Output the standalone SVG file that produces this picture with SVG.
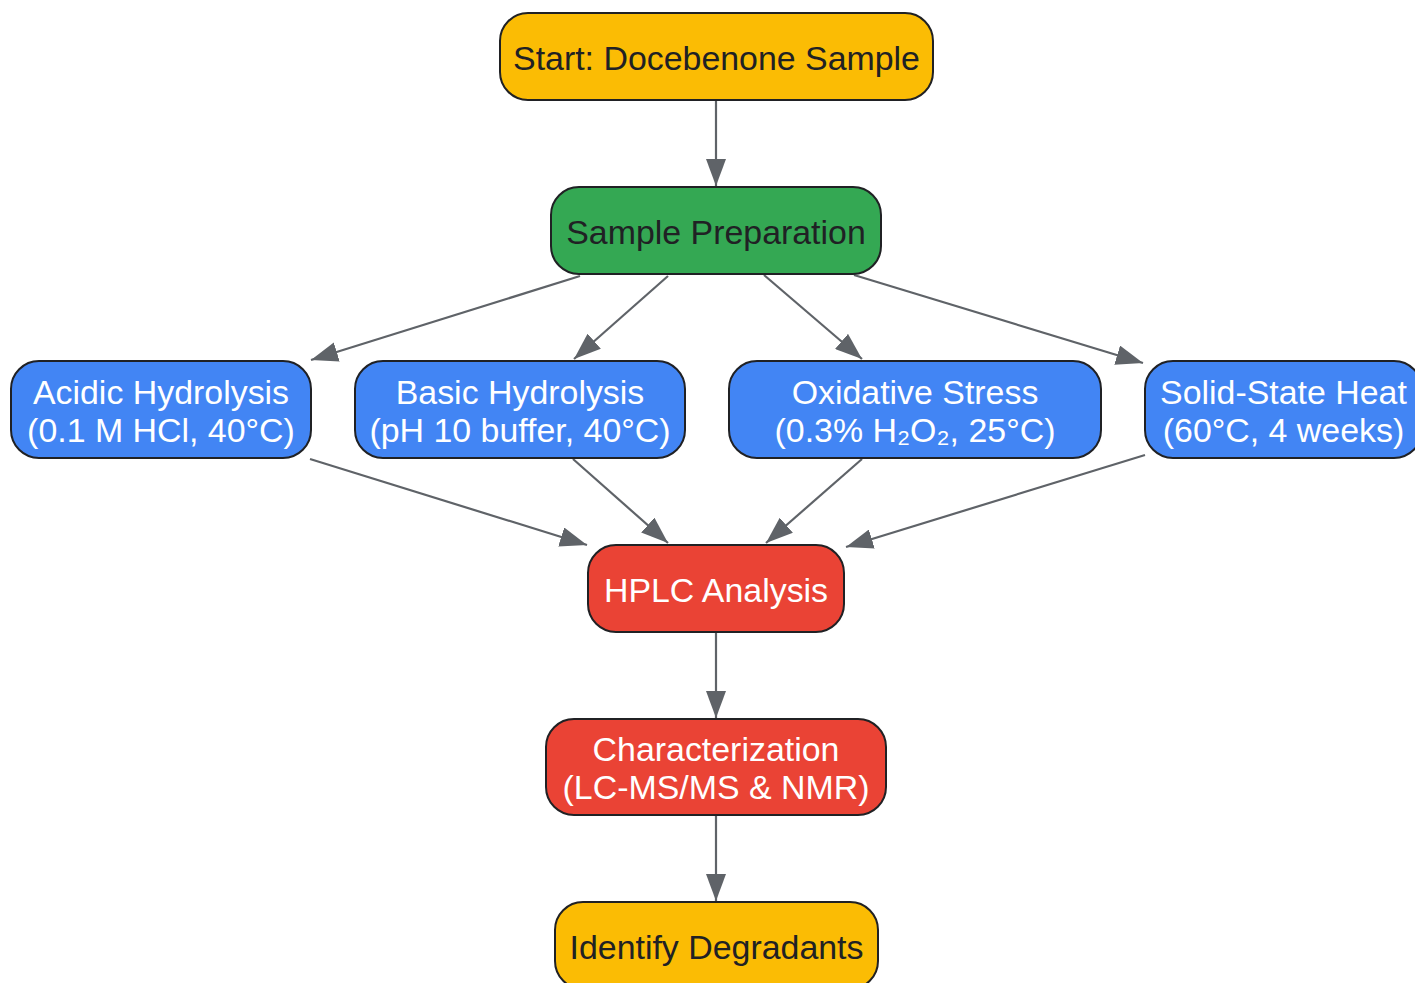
<svg xmlns="http://www.w3.org/2000/svg" width="1415" height="983" viewBox="0 0 1415 983">
<defs>
<style>
.node rect{stroke:#202124;stroke-width:2}
.yellow rect{fill:#FBBC04}
.green rect{fill:#34A853}
.blue rect{fill:#4285F4}
.red rect{fill:#EA4335}
text{font-family:"Liberation Sans",Arial,sans-serif;font-size:33.9px;text-anchor:middle}
.dark text{fill:#202124}
.light text{fill:#ffffff}
.edge{stroke:#5f6368;stroke-width:2.2;fill:none;marker-end:url(#arrow)}
</style>
<marker id="arrow" viewBox="0 0 27 20" refX="27" refY="10" markerWidth="27" markerHeight="20" markerUnits="userSpaceOnUse" orient="auto">
<path d="M0,0 L27,10 L0,20 Z" fill="#5f6368"/>
</marker>
</defs>
<rect width="1415" height="983" fill="#ffffff"/>
<g id="connectors">
<line class="edge" x1="716" y1="100" x2="716" y2="186"/>
<line class="edge" x1="580" y1="276" x2="311" y2="360"/>
<line class="edge" x1="668" y1="276" x2="574" y2="359"/>
<line class="edge" x1="764" y1="275" x2="862" y2="359"/>
<line class="edge" x1="854" y1="275" x2="1143" y2="363"/>
<line class="edge" x1="310" y1="459" x2="587" y2="545"/>
<line class="edge" x1="573" y1="459" x2="668" y2="543"/>
<line class="edge" x1="862" y1="459" x2="766" y2="543"/>
<line class="edge" x1="1145" y1="455" x2="846" y2="547"/>
<line class="edge" x1="716" y1="632" x2="716" y2="718"/>
<line class="edge" x1="716" y1="815" x2="716" y2="901"/>
</g>
<g id="start" class="node yellow dark">
<rect x="500" y="13" width="433" height="87" rx="28"/>
<text x="716.5" y="69.5">Start: Docebenone Sample</text>
</g>
<g id="prep" class="node green dark">
<rect x="551" y="187" width="330" height="87" rx="28"/>
<text x="716" y="243.5">Sample Preparation</text>
</g>
<g id="acidic" class="node blue light">
<rect x="11" y="361" width="300" height="97" rx="28"/>
<text x="161" y="404">Acidic Hydrolysis</text>
<text x="161" y="442">(0.1 M HCl, 40°C)</text>
</g>
<g id="basic" class="node blue light">
<rect x="355" y="361" width="330" height="97" rx="28"/>
<text x="520" y="404">Basic Hydrolysis</text>
<text x="520" y="442">(pH 10 buffer, 40°C)</text>
</g>
<g id="oxidative" class="node blue light">
<rect x="729" y="361" width="372" height="97" rx="28"/>
<text x="915" y="404">Oxidative Stress</text>
<text x="915" y="442">(0.3% H₂O₂, 25°C)</text>
</g>
<g id="solid" class="node blue light">
<rect x="1145" y="361" width="277" height="97" rx="28"/>
<text x="1283.5" y="404">Solid-State Heat</text>
<text x="1283.5" y="442">(60°C, 4 weeks)</text>
</g>
<g id="hplc" class="node red light">
<rect x="588" y="545" width="256" height="87" rx="28"/>
<text x="716" y="601.5">HPLC Analysis</text>
</g>
<g id="char" class="node red light">
<rect x="546" y="719" width="340" height="96" rx="28"/>
<text x="716" y="761">Characterization</text>
<text x="716" y="799">(LC-MS/MS &amp; NMR)</text>
</g>
<g id="identify" class="node yellow dark">
<rect x="555" y="902" width="323" height="87" rx="28"/>
<text x="716.5" y="958.5">Identify Degradants</text>
</g>
</svg>
